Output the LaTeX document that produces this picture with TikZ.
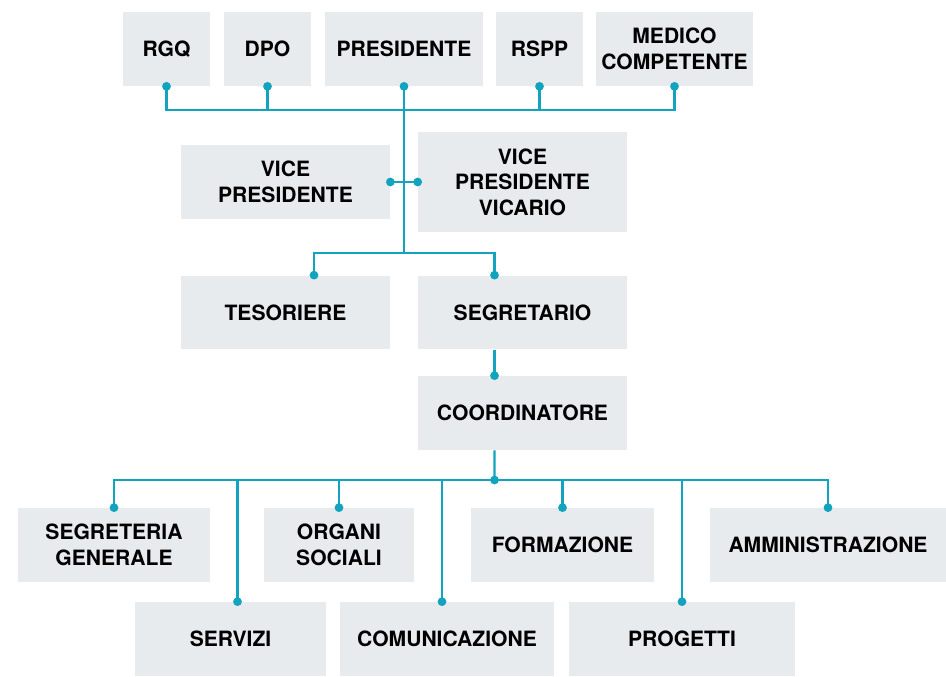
\documentclass[tikz,border=0pt]{standalone}
\usepackage{fontspec}
\setmainfont{TeX Gyre Heros}
\definecolor{orgteal}{RGB}{18,163,190}
\definecolor{orgbox}{RGB}{232,235,238}

\begin{document}
\begin{tikzpicture}[x=0.02cm, y=-0.02cm,
	box/.style={fill=orgbox, align=center, inner sep=0pt, minimum height=1.48cm,
		font=\bfseries\fontsize{12}{14.5}\selectfont},
	link/.style={orgteal, line width=1.2pt}]
	\useasboundingbox (0,0) rectangle (946,676);
	% top row
	\node[box, minimum width=1.74cm] (rgq) at (166.5,49) {RGQ};
	\node[box, minimum width=1.74cm] (dpo) at (267.5,49) {DPO};
	\node[box, minimum width=3.16cm] (pres) at (404,49) {PRESIDENTE};
	\node[box, minimum width=1.74cm] (rspp) at (539.5,49) {RSPP};
	\node[box, minimum width=3.14cm] (medico) at (674.5,49) {MEDICO\\COMPETENTE};
	% vice
	\node[box, minimum width=4.18cm] (vp) at (285.5,182) {VICE\\PRESIDENTE};
	\node[box, minimum width=4.18cm, minimum height=2cm] (vpv) at (522.5,182) {VICE\\PRESIDENTE\\VICARIO};
	\node[box, minimum width=4.18cm] (tes) at (285.5,312.5) {TESORIERE};
	\node[box, minimum width=4.18cm] (seg) at (522.5,312.5) {SEGRETARIO};
	\node[box, minimum width=4.18cm] (coord) at (522.5,413) {COORDINATORE};
	% offices
	\node[box, minimum width=3.84cm] (sg) at (114,545) {SEGRETERIA\\GENERALE};
	\node[box, minimum width=3.00cm] (org) at (339,545) {ORGANI\\SOCIALI};
	\node[box, minimum width=3.66cm] (form) at (562.5,545) {FORMAZIONE};
	\node[box, minimum width=4.72cm] (amm) at (828,545) {AMMINISTRAZIONE};
	\node[box, minimum width=3.82cm] (serv) at (230.5,639) {SERVIZI};
	\node[box, minimum width=4.28cm] (com) at (447,639) {COMUNICAZIONE};
	\node[box, minimum width=4.52cm] (prog) at (682,639) {PROGETTI};

	% attach points
	\coordinate (topbus) at (404,110);
	\coordinate (split) at (404,253);
	\coordinate (bus) at (494.5,480);
	\coordinate (tesin) at ([xshift=0.57cm]tes.north);
	\coordinate (segin) at ([xshift=-0.56cm]seg.north);
	\coordinate (segout) at ([xshift=-0.56cm]seg.south);
	\coordinate (coordin) at ([xshift=-0.56cm]coord.north);
	\coordinate (coordout) at ([xshift=-0.56cm]coord.south);
	\coordinate (servin) at ([xshift=0.14cm]serv.north);
	\coordinate (comin) at ([xshift=-0.1cm]com.north);

	% connectors
	\draw[link] (rgq.south) |- (topbus) -| (medico.south);
	\draw[link] (dpo.south) -- (dpo.south |- topbus);
	\draw[link] (rspp.south) -- (rspp.south |- topbus);
	\draw[link] (pres.south) -- (split);
	\draw[link] (vp.east) -- (vpv.west);
	\draw[link] (tesin) |- (split) -| (segin);
	\draw[link] (segout) -- (coordin);
	\draw[link] (coordout) -- (bus);
	\draw[link] (sg.north) |- (bus) -| (amm.north);
	\foreach \n in {org.north, form.north, servin, comin, prog.north}
		\draw[link] (\n) -- (\n |- bus);

	% dots
	\foreach \p in {rgq.south, dpo.south, pres.south, rspp.south, medico.south,
		vp.east, vpv.west, tesin, segin, coordin, bus,
		sg.north, org.north, form.north, amm.north, servin, comin, prog.north}
		\fill[orgteal] (\p) circle (2.5pt);
\end{tikzpicture}
\end{document}
